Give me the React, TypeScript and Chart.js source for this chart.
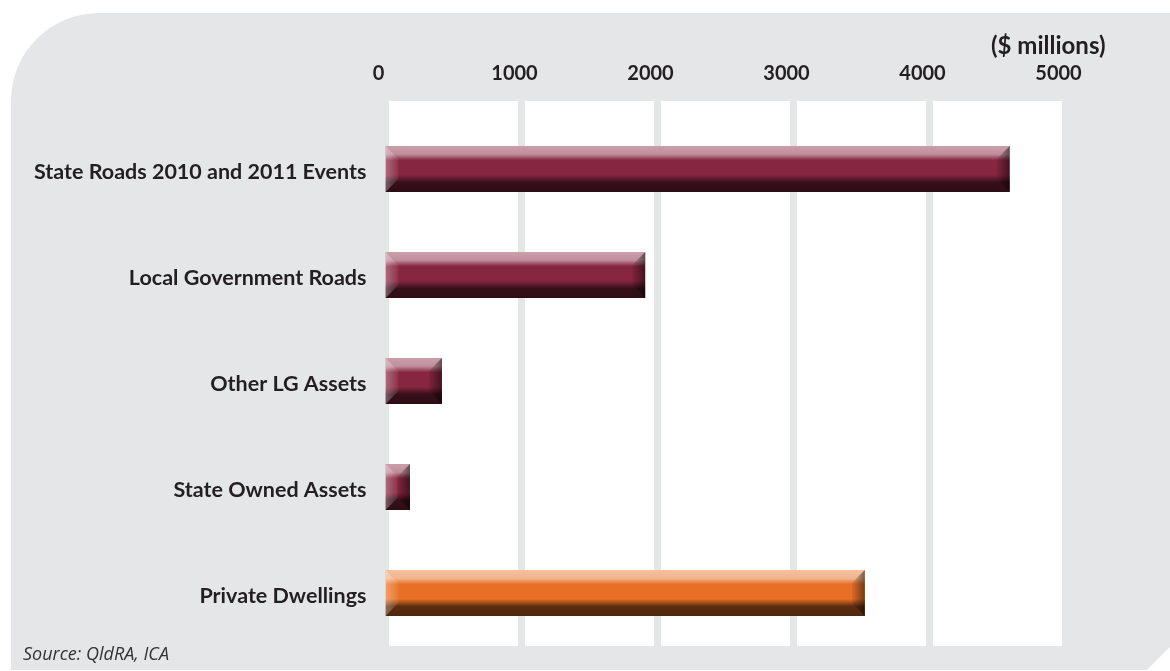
import React, { useEffect, useRef } from 'react';
import { Chart, registerables } from 'chart.js';

Chart.register(...registerables);

const categories = [
  'State Roads 2010 and 2011 Events',
  'Local Government Roads',
  'Other LG Assets',
  'State Owned Assets',
  'Private Dwellings',
];
const values = [4590, 1910, 415, 180, 3525];
const barColors = ['#862640', '#862640', '#862640', '#862640', '#e87026'];
const xTicks = [0, 1000, 2000, 3000, 4000, 5000];
const unitLabel = '($ millions)';
const sourceNote = 'Source: QldRA, ICA';

const GRAY = '#e5e6e8';
const TEXT = '#231f20';

const bgPlugin = {
  id: 'bgPanel',
  beforeDraw(chart: any) {
    const { ctx, chartArea, scales } = chart;
    const W = chart.width;
    const H = chart.height;
    ctx.save();
    ctx.fillStyle = '#ffffff';
    ctx.fillRect(0, 0, W, H);
    ctx.fillStyle = GRAY;
    const r = 88, L = 11, T = 13;
    ctx.beginPath();
    ctx.moveTo(L, T + r);
    ctx.arcTo(L, T, L + r, T, r);
    ctx.lineTo(W, T);
    ctx.lineTo(W, H - 24);
    ctx.lineTo(W - 23, H - 1);
    ctx.lineTo(L, H - 1);
    ctx.closePath();
    ctx.fill();
    const top = chartArea.top - 15;
    ctx.fillStyle = '#ffffff';
    ctx.fillRect(chartArea.left, top, chartArea.right - chartArea.left, chartArea.bottom - top);
    ctx.fillStyle = GRAY;
    xTicks.forEach((v) => {
      const px = scales.x.getPixelForValue(v);
      ctx.fillRect(px - 3.5, top, 7, chartArea.bottom - top);
    });
    ctx.restore();
  },
};

const bevelPlugin = {
  id: 'bevel',
  afterDatasetsDraw(chart: any) {
    const { ctx } = chart;
    const meta = chart.getDatasetMeta(0);
    meta.data.forEach((el: any) => {
      const { x, y, base, height } = el.getProps(['x', 'y', 'base', 'height'], true);
      const x0 = Math.min(x, base);
      const x1 = Math.max(x, base);
      const y0 = y - height / 2;
      const h = height;
      ctx.save();
      ctx.beginPath();
      ctx.rect(x0, y0, x1 - x0, h);
      ctx.clip();
      const g = ctx.createLinearGradient(0, y0, 0, y0 + h);
      g.addColorStop(0, 'rgba(255,255,255,0.56)');
      g.addColorStop(0.18, 'rgba(255,255,255,0.48)');
      g.addColorStop(0.31, 'rgba(255,255,255,0)');
      g.addColorStop(0.63, 'rgba(0,0,0,0)');
      g.addColorStop(0.79, 'rgba(0,0,0,0.6)');
      g.addColorStop(1, 'rgba(0,0,0,0.66)');
      ctx.fillStyle = g;
      ctx.fillRect(x0, y0, x1 - x0, h);
      const w = Math.min(13, (x1 - x0) / 2);
      const lg = ctx.createLinearGradient(x0, 0, x0 + w, 0);
      lg.addColorStop(0, 'rgba(255,255,255,0.32)');
      lg.addColorStop(1, 'rgba(255,255,255,0.05)');
      ctx.fillStyle = lg;
      ctx.beginPath();
      ctx.moveTo(x0, y0);
      ctx.lineTo(x0 + w, y0 + w);
      ctx.lineTo(x0 + w, y0 + h - w);
      ctx.lineTo(x0, y0 + h);
      ctx.closePath();
      ctx.fill();
      const rg = ctx.createLinearGradient(x1 - w, 0, x1, 0);
      rg.addColorStop(0, 'rgba(0,0,0,0.05)');
      rg.addColorStop(1, 'rgba(0,0,0,0.5)');
      ctx.fillStyle = rg;
      ctx.beginPath();
      ctx.moveTo(x1, y0);
      ctx.lineTo(x1 - w, y0 + w);
      ctx.lineTo(x1 - w, y0 + h - w);
      ctx.lineTo(x1, y0 + h);
      ctx.closePath();
      ctx.fill();
      ctx.restore();
    });
  },
};

export default function App() {
  const canvasRef = useRef<HTMLCanvasElement | null>(null);

  useEffect(() => {
    document.body.style.margin = '0';
    const canvas = canvasRef.current;
    if (!canvas) return;
    const chart = new Chart(canvas, {
      type: 'bar',
      data: {
        labels: categories,
        datasets: [
          {
            data: values,
            backgroundColor: barColors,
            borderWidth: 0,
            barPercentage: 0.435,
            categoryPercentage: 1,
          },
        ],
      },
      options: {
        indexAxis: 'y',
        responsive: false,
        animation: false,
        layout: { padding: { top: 65, right: 104.5, bottom: 25, left: 0 } },
        plugins: {
          legend: { display: false },
          tooltip: { enabled: false },
          title: { display: false },
        },
        scales: {
          x: {
            type: 'linear',
            position: 'top',
            min: 0,
            max: 5000,
            grid: { display: false, drawTicks: false },
            border: { display: false },
            afterBuildTicks: (scale: any) => {
              scale.ticks = xTicks.map((v) => ({ value: v }));
            },
            afterFit: (scale: any) => {
              scale.height = 51;
              scale.paddingLeft = 0;
              scale.paddingRight = 0;
            },
            ticks: {
              padding: 30,
              labelOffset: -7,
              color: TEXT,
              font: { family: 'Lato', weight: 'bold', size: 20 },
              maxRotation: 0,
              callback: (v: any) => String(v),
            },
          },
          y: {
            type: 'category',
            grid: { display: false, drawTicks: false },
            border: { display: false },
            afterFit: (scale: any) => {
              scale.width = 385.5;
              scale.paddingTop = 0;
              scale.paddingBottom = 0;
            },
            ticks: {
              padding: 19,
              labelOffset: 3,
              color: TEXT,
              font: { family: 'Lato', weight: 'bold', size: 21.5 },
            },
          },
        },
      },
      plugins: [bgPlugin, bevelPlugin],
    });
    return () => chart.destroy();
  }, []);

  return (
    <div style={{ position: 'absolute', left: 0, top: 0, width: 1170, height: 671 }}>
      <canvas ref={canvasRef} width={1170} height={671} style={{ display: 'block' }} />
      <div
        style={{
          position: 'absolute',
          left: 991,
          top: 30,
          fontFamily: 'Lato, sans-serif',
          fontWeight: 'bold',
          fontSize: 24,
          color: TEXT,
          whiteSpace: 'nowrap',
        }}
      >
        {unitLabel}
      </div>
      <div
        style={{
          position: 'absolute',
          left: 23,
          top: 641,
          fontFamily: '"Open Sans", sans-serif',
          fontStyle: 'italic',
          fontSize: 18,
          color: '#333333',
          whiteSpace: 'nowrap',
        }}
      >
        {sourceNote}
      </div>
    </div>
  );
}
